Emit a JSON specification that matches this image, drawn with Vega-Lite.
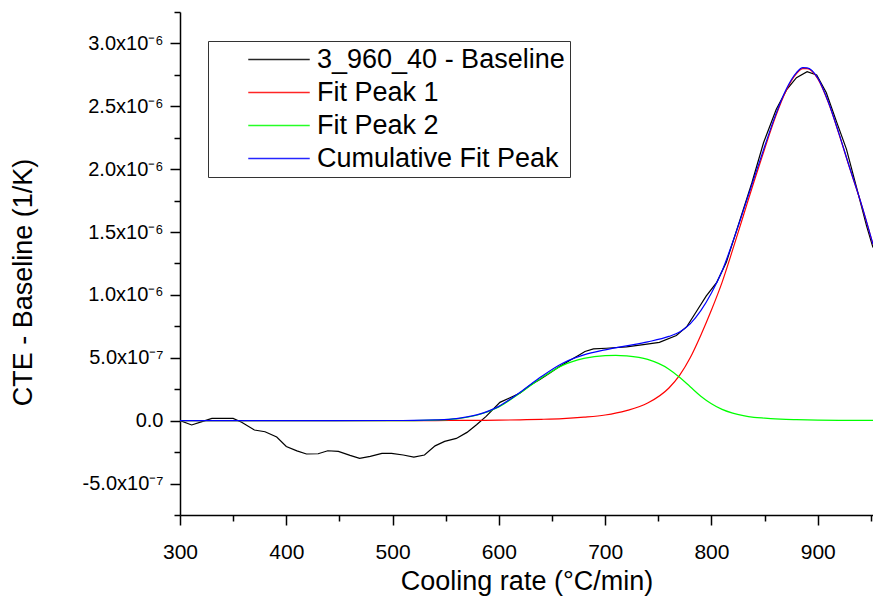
{
  "$schema": "https://vega.github.io/schema/vega-lite/v6.json",
  "width": 693,
  "height": 503,
  "autosize": {"type": "none"},
  "padding": {"left": 180, "top": 12, "right": 0, "bottom": 86},
  "background": "white",
  "config": {
    "view": {"stroke": null},
    "font": "Liberation Sans",
    "axis": {"grid": false, "domainColor": "black", "domainWidth": 1.5, "tickColor": "black", "tickWidth": 1.5, "labelColor": "black", "titleColor": "black", "labelFont": "Liberation Sans", "titleFont": "Liberation Sans", "titleFontWeight": "normal"}
  },
  "data": {"values": [
    {"series": "3_960_40 - Baseline", "x": 300, "y": 0},
    {"series": "3_960_40 - Baseline", "x": 311, "y": -0.034e-6},
    {"series": "3_960_40 - Baseline", "x": 320, "y": -0.01e-6},
    {"series": "3_960_40 - Baseline", "x": 330, "y": 0.018e-6},
    {"series": "3_960_40 - Baseline", "x": 350, "y": 0.018e-6},
    {"series": "3_960_40 - Baseline", "x": 358, "y": -0.013e-6},
    {"series": "3_960_40 - Baseline", "x": 370, "y": -0.074e-6},
    {"series": "3_960_40 - Baseline", "x": 380, "y": -0.088e-6},
    {"series": "3_960_40 - Baseline", "x": 391, "y": -0.13e-6},
    {"series": "3_960_40 - Baseline", "x": 400, "y": -0.205e-6},
    {"series": "3_960_40 - Baseline", "x": 410, "y": -0.24e-6},
    {"series": "3_960_40 - Baseline", "x": 419, "y": -0.265e-6},
    {"series": "3_960_40 - Baseline", "x": 430, "y": -0.263e-6},
    {"series": "3_960_40 - Baseline", "x": 439, "y": -0.239e-6},
    {"series": "3_960_40 - Baseline", "x": 449, "y": -0.244e-6},
    {"series": "3_960_40 - Baseline", "x": 460, "y": -0.276e-6},
    {"series": "3_960_40 - Baseline", "x": 469, "y": -0.3e-6},
    {"series": "3_960_40 - Baseline", "x": 479, "y": -0.284e-6},
    {"series": "3_960_40 - Baseline", "x": 490, "y": -0.26e-6},
    {"series": "3_960_40 - Baseline", "x": 499, "y": -0.26e-6},
    {"series": "3_960_40 - Baseline", "x": 510, "y": -0.273e-6},
    {"series": "3_960_40 - Baseline", "x": 520, "y": -0.289e-6},
    {"series": "3_960_40 - Baseline", "x": 530, "y": -0.273e-6},
    {"series": "3_960_40 - Baseline", "x": 540, "y": -0.2e-6},
    {"series": "3_960_40 - Baseline", "x": 549, "y": -0.165e-6},
    {"series": "3_960_40 - Baseline", "x": 560, "y": -0.141e-6},
    {"series": "3_960_40 - Baseline", "x": 570, "y": -0.093e-6},
    {"series": "3_960_40 - Baseline", "x": 579, "y": -0.032e-6},
    {"series": "3_960_40 - Baseline", "x": 588, "y": 0.034e-6},
    {"series": "3_960_40 - Baseline", "x": 601, "y": 0.146e-6},
    {"series": "3_960_40 - Baseline", "x": 610, "y": 0.18e-6},
    {"series": "3_960_40 - Baseline", "x": 620, "y": 0.22e-6},
    {"series": "3_960_40 - Baseline", "x": 629, "y": 0.28e-6},
    {"series": "3_960_40 - Baseline", "x": 639, "y": 0.33e-6},
    {"series": "3_960_40 - Baseline", "x": 648, "y": 0.38e-6},
    {"series": "3_960_40 - Baseline", "x": 657, "y": 0.43e-6},
    {"series": "3_960_40 - Baseline", "x": 667, "y": 0.48e-6},
    {"series": "3_960_40 - Baseline", "x": 676, "y": 0.525e-6},
    {"series": "3_960_40 - Baseline", "x": 681, "y": 0.55e-6},
    {"series": "3_960_40 - Baseline", "x": 689, "y": 0.571e-6},
    {"series": "3_960_40 - Baseline", "x": 701, "y": 0.576e-6},
    {"series": "3_960_40 - Baseline", "x": 720, "y": 0.587e-6},
    {"series": "3_960_40 - Baseline", "x": 736, "y": 0.605e-6},
    {"series": "3_960_40 - Baseline", "x": 751, "y": 0.623e-6},
    {"series": "3_960_40 - Baseline", "x": 767, "y": 0.677e-6},
    {"series": "3_960_40 - Baseline", "x": 777, "y": 0.75e-6},
    {"series": "3_960_40 - Baseline", "x": 786, "y": 0.87e-6},
    {"series": "3_960_40 - Baseline", "x": 795, "y": 0.99e-6},
    {"series": "3_960_40 - Baseline", "x": 805, "y": 1.1e-6},
    {"series": "3_960_40 - Baseline", "x": 814, "y": 1.26e-6},
    {"series": "3_960_40 - Baseline", "x": 827, "y": 1.6e-6},
    {"series": "3_960_40 - Baseline", "x": 838, "y": 1.89e-6},
    {"series": "3_960_40 - Baseline", "x": 849, "y": 2.21e-6},
    {"series": "3_960_40 - Baseline", "x": 861, "y": 2.476e-6},
    {"series": "3_960_40 - Baseline", "x": 871, "y": 2.635e-6},
    {"series": "3_960_40 - Baseline", "x": 880, "y": 2.728e-6},
    {"series": "3_960_40 - Baseline", "x": 890, "y": 2.776e-6},
    {"series": "3_960_40 - Baseline", "x": 899, "y": 2.75e-6},
    {"series": "3_960_40 - Baseline", "x": 908, "y": 2.61e-6},
    {"series": "3_960_40 - Baseline", "x": 918, "y": 2.37e-6},
    {"series": "3_960_40 - Baseline", "x": 927, "y": 2.16e-6},
    {"series": "3_960_40 - Baseline", "x": 937, "y": 1.84e-6},
    {"series": "3_960_40 - Baseline", "x": 946, "y": 1.547e-6},
    {"series": "3_960_40 - Baseline", "x": 952, "y": 1.377e-6},

    {"series": "Fit Peak 1", "x": 300, "y": 0},
    {"series": "Fit Peak 1", "x": 400, "y": 0},
    {"series": "Fit Peak 1", "x": 500, "y": 0.001e-6},
    {"series": "Fit Peak 1", "x": 540, "y": 0.001e-6},
    {"series": "Fit Peak 1", "x": 560, "y": 0.002e-6},
    {"series": "Fit Peak 1", "x": 580, "y": 0.003e-6},
    {"series": "Fit Peak 1", "x": 600, "y": 0.004e-6},
    {"series": "Fit Peak 1", "x": 620, "y": 0.007e-6},
    {"series": "Fit Peak 1", "x": 640, "y": 0.011e-6},
    {"series": "Fit Peak 1", "x": 660, "y": 0.017e-6},
    {"series": "Fit Peak 1", "x": 680, "y": 0.028e-6},
    {"series": "Fit Peak 1", "x": 700, "y": 0.045e-6},
    {"series": "Fit Peak 1", "x": 720, "y": 0.08e-6},
    {"series": "Fit Peak 1", "x": 740, "y": 0.14e-6},
    {"series": "Fit Peak 1", "x": 760, "y": 0.26e-6},
    {"series": "Fit Peak 1", "x": 770, "y": 0.36e-6},
    {"series": "Fit Peak 1", "x": 780, "y": 0.5e-6},
    {"series": "Fit Peak 1", "x": 790, "y": 0.68e-6},
    {"series": "Fit Peak 1", "x": 800, "y": 0.88e-6},
    {"series": "Fit Peak 1", "x": 810, "y": 1.1e-6},
    {"series": "Fit Peak 1", "x": 820, "y": 1.36e-6},
    {"series": "Fit Peak 1", "x": 830, "y": 1.63e-6},
    {"series": "Fit Peak 1", "x": 840, "y": 1.9e-6},
    {"series": "Fit Peak 1", "x": 850, "y": 2.16e-6},
    {"series": "Fit Peak 1", "x": 860, "y": 2.41e-6},
    {"series": "Fit Peak 1", "x": 870, "y": 2.62e-6},
    {"series": "Fit Peak 1", "x": 880, "y": 2.76e-6},
    {"series": "Fit Peak 1", "x": 886, "y": 2.8e-6},
    {"series": "Fit Peak 1", "x": 890, "y": 2.8e-6},
    {"series": "Fit Peak 1", "x": 900, "y": 2.72e-6},
    {"series": "Fit Peak 1", "x": 910, "y": 2.53e-6},
    {"series": "Fit Peak 1", "x": 920, "y": 2.28e-6},
    {"series": "Fit Peak 1", "x": 930, "y": 2.01e-6},
    {"series": "Fit Peak 1", "x": 940, "y": 1.75e-6},
    {"series": "Fit Peak 1", "x": 952, "y": 1.4e-6},

    {"series": "Fit Peak 2", "x": 300, "y": 0},
    {"series": "Fit Peak 2", "x": 400, "y": 0},
    {"series": "Fit Peak 2", "x": 500, "y": 0.0005e-6},
    {"series": "Fit Peak 2", "x": 520, "y": 0.001e-6},
    {"series": "Fit Peak 2", "x": 540, "y": 0.005e-6},
    {"series": "Fit Peak 2", "x": 560, "y": 0.015e-6},
    {"series": "Fit Peak 2", "x": 580, "y": 0.045e-6},
    {"series": "Fit Peak 2", "x": 600, "y": 0.11e-6},
    {"series": "Fit Peak 2", "x": 620, "y": 0.22e-6},
    {"series": "Fit Peak 2", "x": 640, "y": 0.34e-6},
    {"series": "Fit Peak 2", "x": 660, "y": 0.44e-6},
    {"series": "Fit Peak 2", "x": 680, "y": 0.495e-6},
    {"series": "Fit Peak 2", "x": 700, "y": 0.518e-6},
    {"series": "Fit Peak 2", "x": 710, "y": 0.52e-6},
    {"series": "Fit Peak 2", "x": 720, "y": 0.515e-6},
    {"series": "Fit Peak 2", "x": 740, "y": 0.487e-6},
    {"series": "Fit Peak 2", "x": 760, "y": 0.41e-6},
    {"series": "Fit Peak 2", "x": 770, "y": 0.345e-6},
    {"series": "Fit Peak 2", "x": 780, "y": 0.27e-6},
    {"series": "Fit Peak 2", "x": 790, "y": 0.195e-6},
    {"series": "Fit Peak 2", "x": 800, "y": 0.135e-6},
    {"series": "Fit Peak 2", "x": 810, "y": 0.09e-6},
    {"series": "Fit Peak 2", "x": 820, "y": 0.06e-6},
    {"series": "Fit Peak 2", "x": 830, "y": 0.04e-6},
    {"series": "Fit Peak 2", "x": 840, "y": 0.027e-6},
    {"series": "Fit Peak 2", "x": 850, "y": 0.02e-6},
    {"series": "Fit Peak 2", "x": 860, "y": 0.014e-6},
    {"series": "Fit Peak 2", "x": 870, "y": 0.01e-6},
    {"series": "Fit Peak 2", "x": 880, "y": 0.008e-6},
    {"series": "Fit Peak 2", "x": 900, "y": 0.005e-6},
    {"series": "Fit Peak 2", "x": 920, "y": 0.003e-6},
    {"series": "Fit Peak 2", "x": 952, "y": 0.002e-6},

    {"series": "Cumulative Fit Peak", "x": 300, "y": 0},
    {"series": "Cumulative Fit Peak", "x": 400, "y": 0},
    {"series": "Cumulative Fit Peak", "x": 500, "y": 0.0015e-6},
    {"series": "Cumulative Fit Peak", "x": 520, "y": 0.002e-6},
    {"series": "Cumulative Fit Peak", "x": 540, "y": 0.006e-6},
    {"series": "Cumulative Fit Peak", "x": 560, "y": 0.017e-6},
    {"series": "Cumulative Fit Peak", "x": 580, "y": 0.048e-6},
    {"series": "Cumulative Fit Peak", "x": 600, "y": 0.114e-6},
    {"series": "Cumulative Fit Peak", "x": 620, "y": 0.227e-6},
    {"series": "Cumulative Fit Peak", "x": 640, "y": 0.351e-6},
    {"series": "Cumulative Fit Peak", "x": 660, "y": 0.457e-6},
    {"series": "Cumulative Fit Peak", "x": 680, "y": 0.523e-6},
    {"series": "Cumulative Fit Peak", "x": 700, "y": 0.563e-6},
    {"series": "Cumulative Fit Peak", "x": 720, "y": 0.595e-6},
    {"series": "Cumulative Fit Peak", "x": 740, "y": 0.627e-6},
    {"series": "Cumulative Fit Peak", "x": 760, "y": 0.67e-6},
    {"series": "Cumulative Fit Peak", "x": 770, "y": 0.705e-6},
    {"series": "Cumulative Fit Peak", "x": 780, "y": 0.77e-6},
    {"series": "Cumulative Fit Peak", "x": 790, "y": 0.875e-6},
    {"series": "Cumulative Fit Peak", "x": 800, "y": 1.015e-6},
    {"series": "Cumulative Fit Peak", "x": 810, "y": 1.19e-6},
    {"series": "Cumulative Fit Peak", "x": 820, "y": 1.42e-6},
    {"series": "Cumulative Fit Peak", "x": 830, "y": 1.67e-6},
    {"series": "Cumulative Fit Peak", "x": 840, "y": 1.927e-6},
    {"series": "Cumulative Fit Peak", "x": 850, "y": 2.18e-6},
    {"series": "Cumulative Fit Peak", "x": 860, "y": 2.424e-6},
    {"series": "Cumulative Fit Peak", "x": 870, "y": 2.63e-6},
    {"series": "Cumulative Fit Peak", "x": 880, "y": 2.768e-6},
    {"series": "Cumulative Fit Peak", "x": 886, "y": 2.807e-6},
    {"series": "Cumulative Fit Peak", "x": 890, "y": 2.806e-6},
    {"series": "Cumulative Fit Peak", "x": 900, "y": 2.725e-6},
    {"series": "Cumulative Fit Peak", "x": 910, "y": 2.534e-6},
    {"series": "Cumulative Fit Peak", "x": 920, "y": 2.283e-6},
    {"series": "Cumulative Fit Peak", "x": 930, "y": 2.013e-6},
    {"series": "Cumulative Fit Peak", "x": 940, "y": 1.752e-6},
    {"series": "Cumulative Fit Peak", "x": 952, "y": 1.402e-6}
  ]},
  "encoding": {
    "x": {
      "field": "x", "type": "quantitative",
      "scale": {"domain": [300, 952], "nice": false, "zero": false},
      "axis": {
        "title": "Cooling rate (°C/min)",
        "values": [300, 350, 400, 450, 500, 550, 600, 650, 700, 750, 800, 850, 900, 950],
        "labelExpr": "datum.value % 100 == 0 ? datum.value : ''",
        "tickSize": {"condition": {"test": "datum.value % 100 != 0", "value": 6}, "value": 10},
        "labelFontSize": 21, "titleFontSize": 27, "labelPadding": 16, "titlePadding": 6,
        "labelOverlap": false, "labelFlush": false
      }
    },
    "y": {
      "field": "y", "type": "quantitative",
      "scale": {"domain": [-0.75e-6, 3.25e-6], "nice": false, "zero": false},
      "axis": {
        "title": "CTE - Baseline (1/K)",
        "values": [-7.5e-7, -5e-7, -2.5e-7, 0, 2.5e-7, 5e-7, 7.5e-7, 1e-6, 1.25e-6, 1.5e-6, 1.75e-6, 2e-6, 2.25e-6, 2.5e-6, 2.75e-6, 3e-6, 3.25e-6],
        "labelExpr": "round(datum.value*1e8) % 50 != 0 ? '' : round(datum.value*1e8) == 0 ? '0.0' : abs(round(datum.value*1e8)) == 50 ? (datum.value < 0 ? '-' : '') + '5.0x10⁻⁷' : format(datum.value*1e6, '.1f') + 'x10⁻⁶'",
        "tickSize": {"condition": {"test": "round(datum.value*1e8) % 50 != 0", "value": 6}, "value": 10},
        "labelFontSize": 20, "titleFontSize": 27, "labelPadding": 7, "titlePadding": 45, "titleY": 270,
        "labelOverlap": false, "labelFlush": false
      }
    },
    "color": {
      "field": "series", "type": "nominal",
      "scale": {
        "domain": ["3_960_40 - Baseline", "Fit Peak 1", "Fit Peak 2", "Cumulative Fit Peak"],
        "range": ["#000000", "#ff0000", "#00ff00", "#0000ff"]
      },
      "legend": {
        "title": null, "orient": "none", "legendX": 28, "legendY": 29,
        "strokeColor": "#333333", "fillColor": "white", "padding": 5,
        "symbolType": "M-3,0H3", "symbolSize": 420, "symbolStrokeWidth": 1.3, "symbolOpacity": 0.85,
        "symbolOffset": 52.5, "labelOffset": 24.5, "labelFontSize": 27, "labelColor": "black",
        "labelFont": "Liberation Sans", "rowPadding": 5, "labelLimit": 400
      }
    }
  },
  "layer": [
    {"transform": [{"filter": "datum.series == '3_960_40 - Baseline'"}], "mark": {"type": "line", "strokeWidth": 1.2, "clip": true}},
    {"transform": [{"filter": "datum.series == 'Fit Peak 1'"}], "mark": {"type": "line", "strokeWidth": 1.2, "clip": true, "interpolate": "monotone"}},
    {"transform": [{"filter": "datum.series == 'Fit Peak 2'"}], "mark": {"type": "line", "strokeWidth": 1.2, "clip": true, "interpolate": "monotone"}},
    {"transform": [{"filter": "datum.series == 'Cumulative Fit Peak'"}], "mark": {"type": "line", "strokeWidth": 1.2, "clip": true, "interpolate": "monotone"}}
  ]
}
